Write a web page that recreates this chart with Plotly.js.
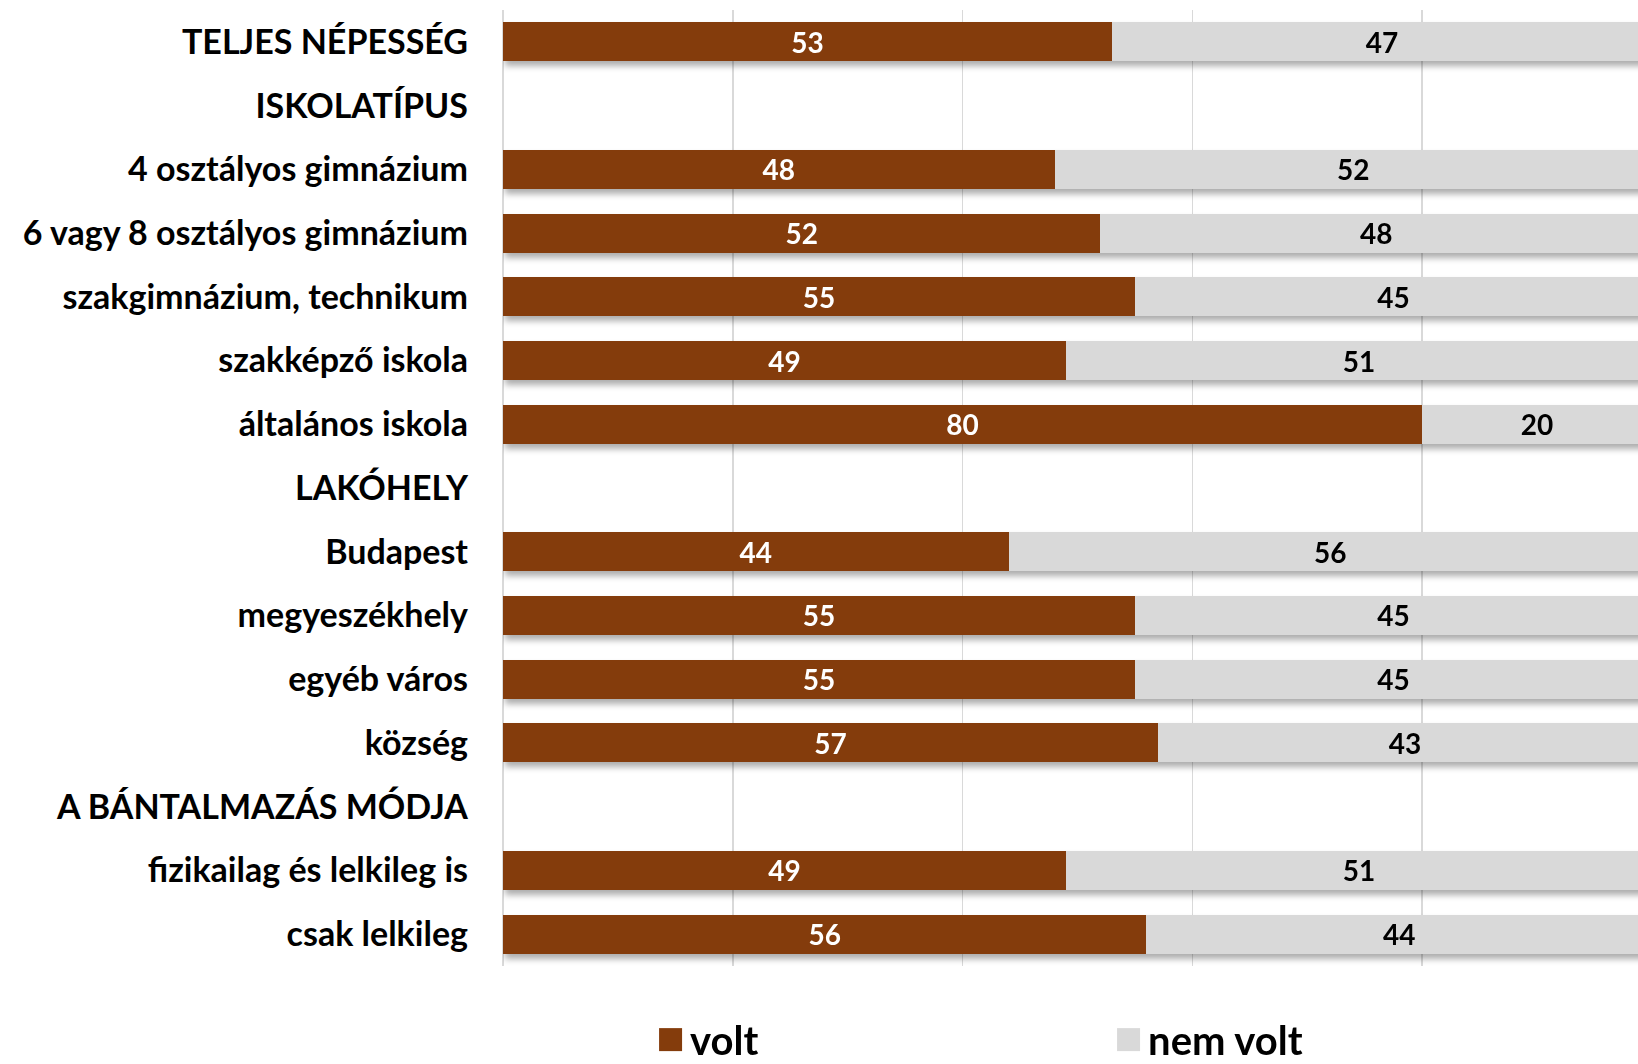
<!DOCTYPE html>
<html>
<head>
<meta charset="utf-8">
<script src="https://cdn.plot.ly/plotly-3.0.1.min.js"></script>
<style>
html, body { margin: 0; padding: 0; overflow: hidden; background: #fff; }
#chart { width: 1660px; height: 1064px; }
.barlayer { filter: drop-shadow(2px 5px 3px rgba(0,0,0,0.32)); }
</style>
</head>
<body>
<div id="chart"></div>
<script>
const categories = [
  "TELJES NÉPESSÉG",
  "ISKOLATÍPUS",
  "4 osztályos gimnázium",
  "6 vagy 8 osztályos gimnázium",
  "szakgimnázium, technikum",
  "szakképző iskola",
  "általános iskola",
  "LAKÓHELY",
  "Budapest",
  "megyeszékhely",
  "egyéb város",
  "község",
  "A BÁNTALMAZÁS MÓDJA",
  "fizikailag és lelkileg is",
  "csak lelkileg"
];
const volt    = [53, null, 48, 52, 55, 49, 80, null, 44, 55, 55, 57, null, 49, 56];
const nemVolt = [47, null, 52, 48, 45, 51, 20, null, 56, 45, 45, 43, null, 51, 44];
const seriesNames = ["volt", "nem volt"];
const xTicks = [0, 20, 40, 60, 80, 100];

const FONT = "Lato, 'Open Sans', sans-serif";

const traces = [
  {
    type: "bar", orientation: "h", name: seriesNames[0],
    y: categories, x: volt,
    marker: { color: "#843C0C", line: { width: 0 } },
    text: volt.map(v => v == null ? "" : String(v)),
    textposition: "inside", insidetextanchor: "middle", textangle: 0,
    constraintext: "none",
    insidetextfont: { family: FONT, size: 28, color: "#ffffff", weight: 700 },
    hoverinfo: "x+y"
  },
  {
    type: "bar", orientation: "h", name: seriesNames[1],
    y: categories, x: nemVolt,
    marker: { color: "#D9D9D9", line: { width: 0 } },
    text: nemVolt.map(v => v == null ? "" : String(v)),
    textposition: "inside", insidetextanchor: "middle", textangle: 0,
    constraintext: "none",
    insidetextfont: { family: FONT, size: 28, color: "#000000", weight: 700 },
    hoverinfo: "x+y"
  }
];

const layout = {
  width: 1660, height: 1064,
  margin: { l: 503, r: 8, t: 10, b: 98, pad: 0, autoexpand: false },
  paper_bgcolor: "#ffffff", plot_bgcolor: "#ffffff",
  barmode: "stack",
  bargap: 0.39,
  font: { family: FONT, color: "#000000" },
  xaxis: {
    range: [0, 100],
    tickvals: xTicks,
    showticklabels: false,
    showgrid: true, gridcolor: "#D9D9D9", gridwidth: 1.5,
    zeroline: true, zerolinecolor: "#D9D9D9", zerolinewidth: 1.5,
    showline: false, fixedrange: true
  },
  yaxis: {
    type: "category",
    categoryorder: "array", categoryarray: categories,
    autorange: "reversed",
    showgrid: false, zeroline: false, showline: false,
    ticks: "", ticklabelstandoff: 34,
    tickfont: { family: FONT, size: 34, color: "#000000", weight: 700 },
    fixedrange: true
  },
  showlegend: true,
  legend: {
    orientation: "h",
    x: 0.128, xanchor: "left",
    y: -0.077, yanchor: "middle",
    entrywidth: 413, entrywidthmode: "pixels",
    font: { family: FONT, size: 40, color: "#000000", weight: 700 },
    bgcolor: "rgba(0,0,0,0)", borderwidth: 0,
    traceorder: "normal"
  }
};

Plotly.newPlot("chart", traces, layout, { displayModeBar: false, staticPlot: true }).then(function (gd) {
  // enlarge legend swatches to match the reference's square keys
  gd.querySelectorAll(".legend .legendpoints path").forEach(function (p) {
    p.setAttribute("d", "M12,11.5H-11V-11.5H12Z");
    p.style.strokeWidth = "0";
  });
});
</script>
</body>
</html>
